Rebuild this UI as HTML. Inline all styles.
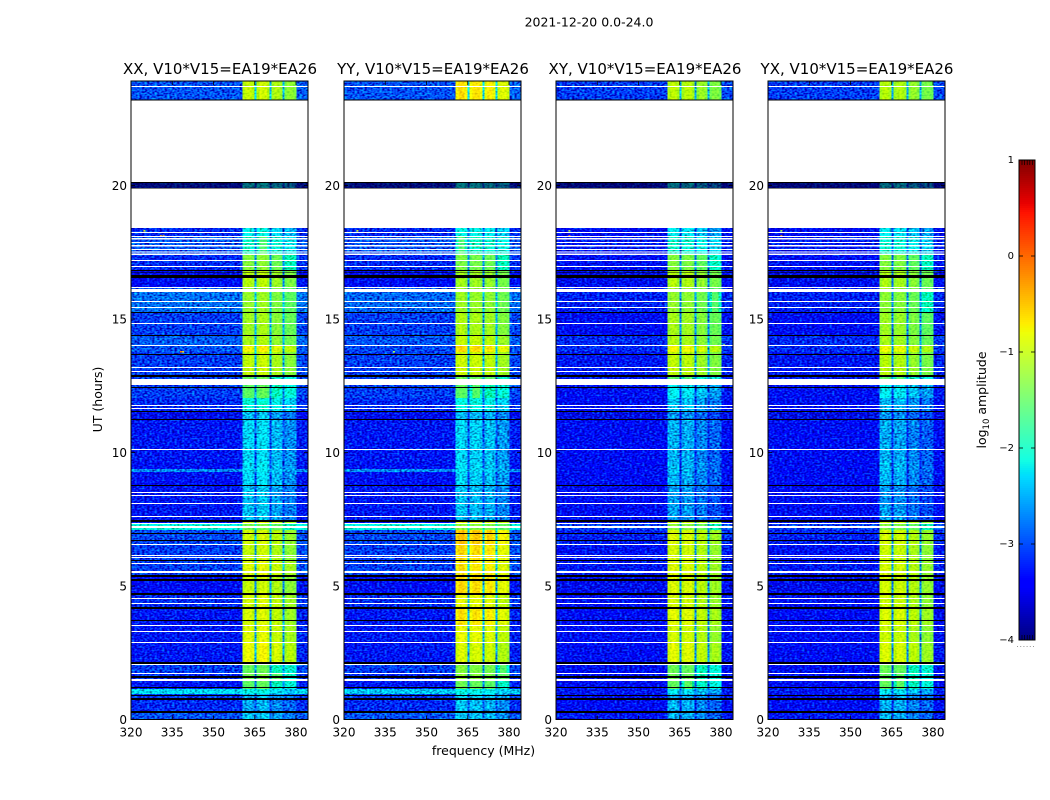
<!DOCTYPE html>
<html lang="en">
<head>
<meta charset="utf-8">
<title>2021-12-20 0.0-24.0</title>
<style>
html,body{margin:0;padding:0;background:#fff;width:1050px;height:800px;overflow:hidden}
svg{display:block}
text{font-family:"DejaVu Sans","Liberation Sans",sans-serif;fill:#000}
</style>
</head>
<body>
<svg id="chart" xmlns="http://www.w3.org/2000/svg" width="1050" height="800" viewBox="0 0 1050 800">
  <defs>
    <!-- cosmetic speckle only: changes no cell level -->
    <filter id="grain-strong" filterUnits="userSpaceOnUse" x="0" y="0" width="1050" height="800" color-interpolation-filters="sRGB">
      <feTurbulence type="fractalNoise" baseFrequency="0.4 0.6" numOctaves="1" seed="4" result="n"/>
      <feColorMatrix in="n" type="matrix" values="0 0 0 0 0  1 0 0 0 0  1 0 0 0 0  0 0 0 0 1" result="g"/>
      <feComposite in="SourceGraphic" in2="g" operator="arithmetic" k1="0" k2="1" k3="1.5" k4="-0.75" result="m"/>
      <feComposite in="m" in2="SourceAlpha" operator="in"/>
    </filter>
    <filter id="grain-soft" filterUnits="userSpaceOnUse" x="0" y="0" width="1050" height="800" color-interpolation-filters="sRGB">
      <feTurbulence type="fractalNoise" baseFrequency="0.4 0.6" numOctaves="1" seed="9" result="n"/>
      <feColorMatrix in="n" type="matrix" values="1 0 0 0 0  1 0 0 0 0  0 0 0 0 0  0 0 0 0 1" result="g"/>
      <feComposite in="SourceGraphic" in2="g" operator="arithmetic" k1="0" k2="1" k3="0.5" k4="-0.25" result="m"/>
      <feComposite in="m" in2="SourceAlpha" operator="in"/>
    </filter>
  </defs>
  <text x="589" y="26.5" font-size="12.5" text-anchor="middle">2021-12-20 0.0-24.0</text>
  <text x="483.5" y="755" font-size="12.5" text-anchor="middle">frequency (MHz)</text>
  <text transform="translate(102 399.5) rotate(-90)" font-size="12.5" text-anchor="middle">UT (hours)</text>
  <text transform="translate(986 400) rotate(-90)" font-size="12.5" text-anchor="middle">log<tspan font-size="8.5" dy="3">10</tspan><tspan dy="-3"> amplitude</tspan></text>
  <g id="panels"></g>
  <g id="colorbar"></g>
</svg>
<script>
// ---- chart data ----
const panelNames = ["XX", "YY", "XY", "YX"];
const baselineLabel = "V10*V15=EA19*EA26";
const freqTicks = [320, 335, 350, 365, 380];
const hourTicks = [0, 5, 10, 15, 20];
const colorTicks = [-4, -3, -2, -1, 0, 1];

// Frequency columns (MHz): background, then sub-band edge/centre/edge separated by notches
const channelEdges = [320, 360.6, 361.6, 363.9, 364.9, 365.7, 366.7, 369.4, 370.4, 371.0, 372.0, 374.0, 375.0, 375.8, 376.8, 379.1, 380.1, 384.36];
const channelLeak = [0, 0.94, 1, 0.94, 0.3, 0.94, 1, 0.94, 0.3, 0.94, 1, 0.94, 0.3, 0.94, 1, 0.94, 0.03];

// Time bands (hours, descending)
const bandEdges = [23.91,23.2,20.13,19.89,18.41,18.11,17.40,16.84,16.2,16.01,15.26,14.40,14.03,13.76,12.90,12.53,12.04,11.55,11.22,10.84,10.28,9.64,9.38,9.27,8.78,8.03,7.47,7.36,7.10,6.54,5.97,5.41,4.74,4.21,3.54,2.87,2.15,1.74,1.48,1.14,0.96,0.73,0.32,0];

// log10 amplitude, off-band background, per time band
const xxBackground = [-3.0,null,-3.3,null,-3.2,-3.0,-3.2,-3.4,-3.0,-2.85,-3.1,-2.95,-3.0,-3.1,-3.1,-3.1,-3.2,-3.5,-3.3,-3.3,-3.3,-3.35,-2.7,-3.35,-3.3,-3.3,-3.4,-2.1,-3.05,-3.1,-3.1,-3.4,-3.2,-3.3,-3.3,-3.3,-3.1,-3.2,-3.3,-2.3,-3.1,-3.2,-3.0];
const yyBackground = [-3.0,null,-3.3,null,-3.2,-3.0,-3.2,-3.4,-3.0,-2.9,-3.1,-3.0,-3.05,-3.1,-3.1,-3.1,-3.2,-3.5,-3.3,-3.3,-3.3,-3.35,-2.7,-3.35,-3.3,-3.3,-3.4,-2.1,-3.05,-3.1,-3.1,-3.4,-3.2,-3.3,-3.3,-3.3,-3.1,-3.2,-3.3,-2.4,-3.1,-3.2,-3.0];
const xyBackground = [-3.1,null,-3.5,null,-3.4,-3.3,-3.35,-3.5,-3.3,-3.25,-3.4,-3.2,-3.2,-3.3,-3.3,-3.35,-3.4,-3.55,-3.45,-3.45,-3.45,-3.45,-3.45,-3.45,-3.45,-3.45,-3.5,-3.1,-3.25,-3.35,-3.3,-3.5,-3.4,-3.45,-3.45,-3.4,-3.4,-3.4,-3.45,-3.3,-3.35,-3.4,-3.3];
const yxBackground = [-3.1,null,-3.5,null,-3.4,-3.3,-3.35,-3.5,-3.3,-3.25,-3.4,-3.2,-3.2,-3.3,-3.3,-3.35,-3.4,-3.55,-3.45,-3.45,-3.45,-3.45,-3.45,-3.45,-3.45,-3.45,-3.5,-3.1,-3.25,-3.35,-3.3,-3.5,-3.4,-3.45,-3.45,-3.4,-3.4,-3.4,-3.45,-3.3,-3.35,-3.4,-3.3];

// log10 amplitude, in-band level, per time band
const xxInBand = [-1.1,null,-2.4,null,-2.2,-1.9,-1.5,-1.2,-1.4,-1.4,-1.33,-1.28,-0.8,-1.13,-1.7,-1.75,-2.05,-2.5,-2.38,-2.38,-2.38,-2.33,-2.33,-2.38,-2.48,-2.48,-0.9,-1.6,-1.05,-1.1,-0.95,-1.1,-1.0,-1.0,-0.95,-0.85,-1.7,-1.6,-1.75,-2.2,-2.55,-2.6,-2.5];
const yyInBand = [-0.7,null,-2.4,null,-2.2,-1.9,-1.6,-1.35,-1.4,-1.4,-1.28,-1.13,-0.65,-1.08,-1.7,-1.8,-2.15,-2.55,-2.43,-2.43,-2.43,-2.38,-2.38,-2.43,-2.53,-2.53,-0.9,-1.5,-0.55,-0.65,-0.7,-0.65,-0.9,-0.7,-0.9,-1.0,-1.55,-1.5,-1.7,-2.2,-2.4,-2.5,-2.5];
const xyInBand = [-1.2,null,-2.5,null,-2.3,-2.0,-1.55,-1.25,-1.4,-1.45,-1.33,-1.28,-0.85,-1.18,-1.8,-2.3,-2.5,-2.75,-2.6,-2.6,-2.6,-2.55,-2.55,-2.6,-2.7,-2.7,-1.0,-1.5,-1.0,-1.05,-1.0,-1.0,-1.05,-0.95,-1.05,-0.95,-1.7,-1.7,-1.75,-2.3,-2.6,-2.6,-2.6];
const yxInBand = [-1.25,null,-2.5,null,-2.3,-2.05,-1.55,-1.3,-1.4,-1.5,-1.38,-1.33,-0.9,-1.23,-1.8,-2.3,-2.55,-2.75,-2.6,-2.65,-2.6,-2.55,-2.55,-2.6,-2.75,-2.7,-1.05,-1.55,-1.05,-1.1,-1.05,-1.05,-1.1,-1.0,-1.1,-1.0,-1.7,-1.75,-1.75,-2.3,-2.6,-2.6,-2.6];

// Gain of each frequency column relative to the in-band level
const xxChannelGain = [0, 0.05,0.05,0.05, 0, 0.05,0.1,0.05, 0, -0.1,-0.1,-0.1, 0, -0.3,-0.3,-0.3, 0];
const yyChannelGain = [0, 0.1,0.1,0.1, 0, 0.05,0.05,0.05, 0, 0,0,0, 0, -0.2,-0.2,-0.2, 0];
const xyChannelGain = [0, 0.1,0.1,0.1, 0, 0.05,0.05,0.05, 0, -0.12,-0.12,-0.12, 0, -0.3,-0.3,-0.3, 0];
const yxChannelGain = [0, 0.1,0.1,0.1, 0, 0.05,0.05,0.05, 0, -0.12,-0.12,-0.12, 0, -0.3,-0.3,-0.3, 0];

// Flagged time ranges: [start hour, end hour]
const whiteGaps = [[23.73,23.69],[23.2,20.13],[19.89,18.41],[18.26,18.22],[18.11,18.07],[18.03,17.98],[17.88,17.85],[17.77,17.72],[17.62,17.58],[17.53,17.49],[17.45,17.40],[17.21,17.17],[16.99,16.95],[16.20,16.16],[16.12,16.01],[15.67,15.64],[15.45,15.41],[14.85,14.81],[14.03,13.99],[13.20,13.16],[13.05,13.01],[12.75,12.53],[11.78,11.74],[11.67,11.63],[10.13,10.09],[8.52,8.48],[8.41,8.37],[8.11,8.07],[7.62,7.58],[7.36,7.32],[7.25,7.17],[6.57,6.54],[6.16,6.12],[6.09,6.05],[5.86,5.82],[5.56,5.49],[4.55,4.51],[4.36,4.33],[3.54,3.50],[3.31,3.28],[2.90,2.87],[2.08,2.04],[1.74,1.70],[1.52,1.44]];
const blackLines = [[23.22,23.18],[20.13,20.07],[20.04,20.0],[19.97,19.94],[19.93,19.89],[16.84,16.80],[16.74,16.72],[16.65,16.54],[15.26,15.22],[14.40,14.36],[13.69,13.65],[12.90,12.83],[12.45,12.42],[11.55,11.52],[11.25,11.22],[8.78,8.75],[7.47,7.40],[6.99,6.95],[6.72,6.69],[5.97,5.94],[5.41,5.34],[5.26,5.19],[4.74,4.66],[4.21,4.14],[3.73,3.69],[2.15,2.08],[1.63,1.55],[1.22,1.18],[0.92,0.88],[0.81,0.73],[0.32,0.24]];

// Isolated interference spots: [MHz, hour, log10 amplitude]
const xxSpots = [[324.5,18.33,-0.9],[330.5,18.14,-0.3],[331.5,18.14,-0.3],[337.8,13.8,-0.2],[338.6,13.8,-0.6]];
const yySpots = [[324.5,18.33,-0.9],[337.8,13.8,-1.2]];
const xySpots = [[324.5,18.33,-1.1],[324.5,18.14,-0.2],[380.8,14.05,-1.0]];
const yxSpots = [[324.5,18.33,-1.1],[324.5,18.14,-0.2],[380.8,14.05,-1.0]];

const backgroundByPanel = [xxBackground, yyBackground, xyBackground, yxBackground];
const inBandByPanel = [xxInBand, yyInBand, xyInBand, yxInBand];
const gainByPanel = [xxChannelGain, yyChannelGain, xyChannelGain, yxChannelGain];
const spotsByPanel = [xxSpots, yySpots, xySpots, yxSpots];

// ---- layout ----
const SVGNS = "http://www.w3.org/2000/svg";
const panelLefts = [131, 344, 556, 768];
const panelWidth = 177, plotTop = 81, plotBottom = 719.5;
const pxPerMHz = 2.75, pxPerHour = 26.7;
const cbLeft = 1019, cbRight = 1035, cbTop = 160, cbBottom = 640;
const xScale = (left, f) => left + (f - 320) * pxPerMHz;
const yScale = h => plotBottom - h * pxPerHour;
const cbScale = v => cbBottom - (v + 4) * (cbBottom - cbTop) / 5;

function lerp(stops, t) {
  for (let i = 1; i < stops.length; i++) {
    if (t <= stops[i][0]) {
      const a = stops[i - 1], b = stops[i];
      return a[1] + (b[1] - a[1]) * (t - a[0]) / (b[0] - a[0]);
    }
  }
  return stops[stops.length - 1][1];
}
const jetR = [[0,0],[0.35,0],[0.66,1],[0.89,1],[1,0.5]];
const jetG = [[0,0],[0.125,0],[0.375,1],[0.64,1],[0.91,0],[1,0]];
const jetB = [[0,0.5],[0.11,1],[0.34,1],[0.65,0],[1,0]];
function levelColor(v) {
  const t = Math.max(0, Math.min(1, (v + 4) / 5));
  const c = s => Math.round(lerp(s, t) * 255);
  return "rgb(" + c(jetR) + "," + c(jetG) + "," + c(jetB) + ")";
}
function make(tag, parent, attrs, text) {
  const n = document.createElementNS(SVGNS, tag);
  for (const k in attrs) n.setAttribute(k, attrs[k]);
  if (text !== undefined) n.textContent = text;
  parent.appendChild(n);
  return n;
}

// ---- panels ----
const panelsRoot = document.getElementById("panels");
panelNames.forEach((name, p) => {
  const left = panelLefts[p];
  const right = left + panelWidth;
  const panel = make("g", panelsRoot, {});
  
  

  const bgCells = make("g", panel, {filter: "url(#grain-strong)", "shape-rendering": "crispEdges"});
  
  
  const sbCells = make("g", panel, {filter: "url(#grain-soft)", "shape-rendering": "crispEdges"});
  
  

  backgroundByPanel[p].forEach((bg, b) => {
    const sb = inBandByPanel[p][b];
    if (bg === null || sb === null) return;
    const y0 = yScale(bandEdges[b]);
    const y1 = yScale(bandEdges[b + 1]);
    channelLeak.forEach((leak, c) => {
      const x0 = xScale(left, channelEdges[c]);
      const x1 = Math.min(right, xScale(left, channelEdges[c + 1]));
      const level = bg + leak * (sb + gainByPanel[p][c] - bg);
      const target = (leak > 0.9 && level > -1.8) ? sbCells : bgCells;
      const cell = make("rect", target, {x: x0, y: y0, width: x1 - x0, height: y1 - y0, fill: levelColor(level)});
      
      
    });
  });

  spotsByPanel[p].forEach(s => {
    const spot = make("rect", panel, {x: xScale(left, s[0]), y: yScale(s[1]), width: 2, height: 1.5, fill: levelColor(s[2])});
    
    
  });

  whiteGaps.forEach(g => {
    const gap = make("rect", panel, {x: left, y: yScale(g[0]), width: panelWidth, height: yScale(g[1]) - yScale(g[0]), fill: "#fff", "shape-rendering": "crispEdges"});
    
    
  });
  blackLines.forEach(g => {
    const line = make("rect", panel, {x: left, y: yScale(g[0]), width: panelWidth, height: yScale(g[1]) - yScale(g[0]), fill: "#000", "shape-rendering": "crispEdges"});
    
    
  });

  const frame = make("rect", panel, {x: left, y: plotTop, width: panelWidth, height: plotBottom - plotTop, fill: "none", stroke: "#000", "stroke-width": 1});
  
  

  freqTicks.forEach(f => {
    const x = xScale(left, f);
    const bottomTick = make("line", panel, {x1: x, x2: x, y1: plotBottom, y2: plotBottom - 4, stroke: "#000", "stroke-width": 0.8});
    
    
    const topTick = make("line", panel, {x1: x, x2: x, y1: plotTop, y2: plotTop + 4, stroke: "#000", "stroke-width": 0.8});
    
    
    const label = make("text", panel, {x: x, y: plotBottom + 17, "font-size": 12, "text-anchor": "middle"}, String(f));
    
    
  });
  hourTicks.forEach(h => {
    const y = yScale(h);
    const leftTick = make("line", panel, {x1: left, x2: left + 4, y1: y, y2: y, stroke: "#000", "stroke-width": 0.8});
    
    
    const rightTick = make("line", panel, {x1: right, x2: right - 4, y1: y, y2: y, stroke: "#000", "stroke-width": 0.8});
    
    
    const label = make("text", panel, {x: left - 4, y: y + 4.5, "font-size": 12, "text-anchor": "end"}, String(h));
    
    
  });

  const title = make("text", panel, {x: left + panelWidth / 2 + 0.5, y: 74, "font-size": 15, "text-anchor": "middle"}, name + ", " + baselineLabel);
  
  
});

// ---- colorbar ----
const cb = document.getElementById("colorbar");
for (let y = cbTop; y < cbBottom; y += 2) {
  const v = -4 + (cbBottom - y - 1) * 5 / (cbBottom - cbTop);
  const swatch = make("rect", cb, {x: cbLeft, y: y, width: cbRight - cbLeft, height: 2, fill: levelColor(v), "shape-rendering": "crispEdges"});
  
  
}
const cbFrame = make("rect", cb, {x: cbLeft, y: cbTop, width: cbRight - cbLeft, height: cbBottom - cbTop, fill: "none", stroke: "#000", "stroke-width": 1});


colorTicks.forEach(v => {
  const y = cbScale(v);
  const tickL = make("line", cb, {x1: cbLeft, x2: cbLeft + 4, y1: y, y2: y, stroke: "#000", "stroke-width": 0.8});
  
  
  const tickR = make("line", cb, {x1: cbRight, x2: cbRight - 4, y1: y, y2: y, stroke: "#000", "stroke-width": 0.8});
  
  
  const label = make("text", cb, {x: cbLeft - 5, y: y + 3, "font-size": 10, "text-anchor": "end"}, v < 0 ? "\u2212" + Math.abs(v) : String(v));
  
  
});
for (let i = 0; i < 5; i++) {
  const x = cbLeft + 3 + i * 2.6;
  const topMark = make("line", cb, {x1: x, x2: x, y1: cbTop, y2: cbTop + 5, stroke: "#000", "stroke-width": 0.7});
  
  
  const bottomMark = make("line", cb, {x1: x, x2: x, y1: cbBottom, y2: cbBottom - 5, stroke: "#000", "stroke-width": 0.7});
  
  
}
for (let i = 0; i < 6; i++) {
  const dot = make("rect", cb, {x: cbLeft - 2 + i * 3.2, y: 646, width: 1, height: 1, fill: "#999"});
  
  
}
</script>
</body>
</html>
